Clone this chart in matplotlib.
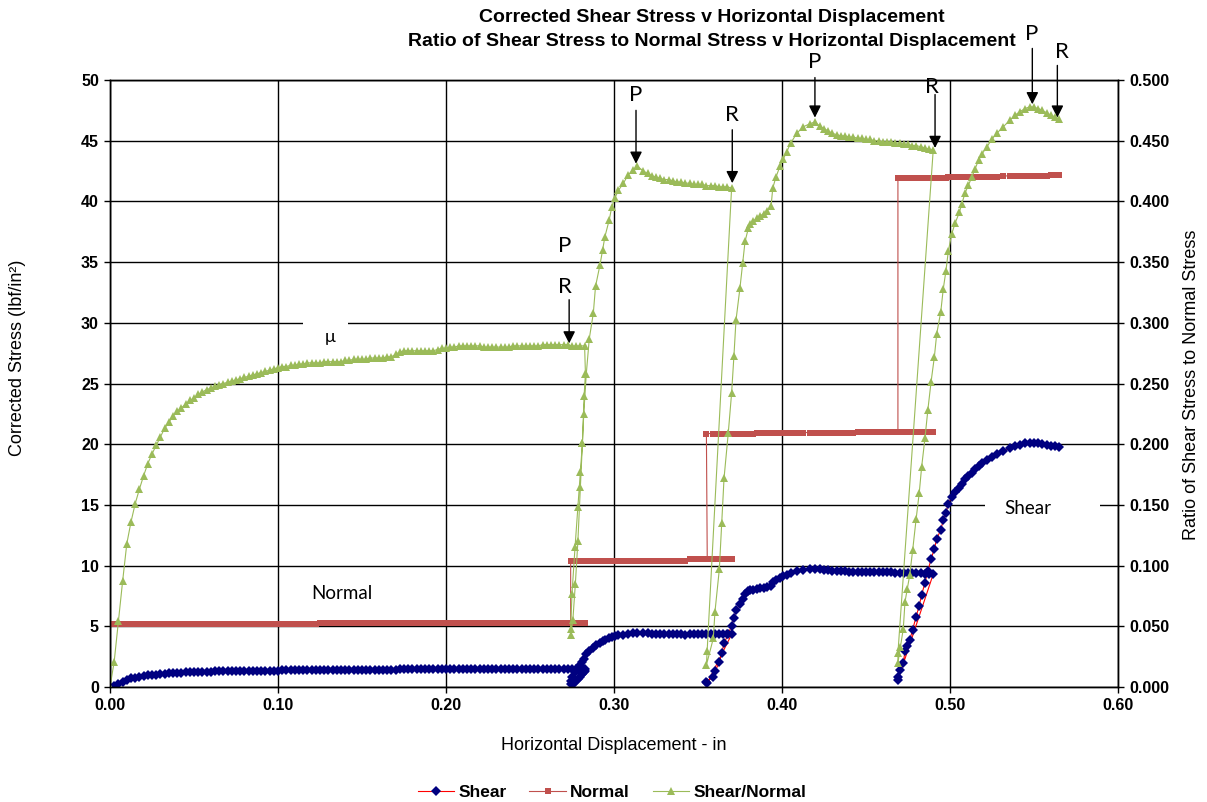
import numpy as np
import matplotlib
matplotlib.use('Agg')
import matplotlib.pyplot as plt
from matplotlib.patches import Rectangle
from matplotlib.ticker import FormatStrFormatter

plt.rcParams['font.family'] = ['Liberation Sans', 'DejaVu Sans']

DX = 0.0025  # plateau readings are logged on a 0.0025 in grid

# stage 1 : first normal load, shear/normal ratio from x = 0
stage1_ratio = [
    0.000, 0.021, 0.054, 0.087, 0.118, 0.136, 0.151, 0.163, 0.174, 0.184,
    0.192, 0.199, 0.206, 0.213, 0.218, 0.223, 0.227, 0.230, 0.233, 0.236,
    0.238, 0.241, 0.243, 0.245, 0.246, 0.248, 0.249, 0.250, 0.251, 0.252,
    0.253, 0.254, 0.255, 0.256, 0.257, 0.258, 0.259, 0.260, 0.261, 0.262,
    0.263, 0.264, 0.264, 0.265, 0.265, 0.266, 0.266, 0.267, 0.267, 0.267,
    0.267, 0.268, 0.268, 0.268, 0.268, 0.268, 0.269, 0.269, 0.270, 0.270,
    0.270, 0.270, 0.271, 0.271, 0.271, 0.271, 0.272, 0.272, 0.274, 0.276,
    0.277, 0.277, 0.277, 0.277, 0.277, 0.277, 0.277, 0.277, 0.278, 0.279,
    0.279, 0.280, 0.280, 0.281, 0.281, 0.281, 0.281, 0.281, 0.281, 0.280,
    0.280, 0.280, 0.280, 0.280, 0.280, 0.280, 0.281, 0.281, 0.281, 0.281,
    0.281, 0.281, 0.281, 0.282, 0.282, 0.282, 0.282, 0.282, 0.282, 0.282,
    0.281, 0.281, 0.281, 0.281,
]
stage1_normal = [(0.000, 5.16), (0.125, 5.24)]
unload1_x = [0.2830, 0.2822, 0.2812, 0.2800, 0.2785, 0.2770, 0.2755, 0.2742]
unload1_ratio = [0.258, 0.240, 0.201, 0.165, 0.120, 0.085, 0.055, 0.043]

# stage 2
ramp2_x = [0.2742, 0.2750, 0.2768, 0.2785, 0.2800, 0.2812, 0.2820, 0.2835,
           0.2853, 0.2877, 0.2890, 0.2917, 0.2932, 0.2946, 0.2972, 0.2986,
           0.3006, 0.3026, 0.3056, 0.3085, 0.3115, 0.3139]
ramp2_ratio = [0.048, 0.077, 0.115, 0.148, 0.177, 0.201, 0.225, 0.258,
               0.287, 0.308, 0.330, 0.348, 0.360, 0.371, 0.385, 0.395,
               0.403, 0.409, 0.415, 0.422, 0.426, 0.429]
plateau2_start = 0.3175
plateau2_ratio = [0.425, 0.423, 0.421, 0.420, 0.419, 0.418, 0.418, 0.417,
                  0.416, 0.416, 0.415, 0.415, 0.414, 0.414, 0.414, 0.413,
                  0.413, 0.413, 0.412, 0.412, 0.412, 0.411]
stage2_normal = [(0.274, 10.42), (0.345, 10.55)]
unload2_x = [0.3555]
unload2_ratio = [0.030]

# stage 3
ramp3_x = [0.3550, 0.3591, 0.3601, 0.3627, 0.3641, 0.3655, 0.3680, 0.3700,
           0.3714, 0.3726, 0.3750, 0.3766, 0.3780, 0.3800, 0.3810, 0.3830,
           0.3850, 0.3870, 0.3890, 0.3910, 0.3935, 0.3945, 0.3964, 0.3988,
           0.4008, 0.4028, 0.4052, 0.4087, 0.4127, 0.4167, 0.4196]
ramp3_ratio = [0.018, 0.040, 0.062, 0.097, 0.135, 0.172, 0.209, 0.242,
               0.273, 0.302, 0.329, 0.349, 0.367, 0.378, 0.381, 0.384,
               0.386, 0.388, 0.390, 0.392, 0.396, 0.411, 0.420, 0.429,
               0.435, 0.441, 0.448, 0.456, 0.4615, 0.464, 0.4655]
plateau3_start = 0.4225
plateau3_ratio = [0.462, 0.460, 0.458, 0.456, 0.455, 0.454, 0.454, 0.453,
                  0.453, 0.452, 0.452, 0.451, 0.451, 0.450, 0.450, 0.449,
                  0.449, 0.449, 0.448, 0.448, 0.447, 0.447, 0.446, 0.446,
                  0.445, 0.444, 0.443, 0.442]
stage3_normal = [(0.355, 20.88), (0.385, 20.96), (0.445, 21.02)]
unload3_x = [0.4690]
unload3_ratio = [0.028]

# stage 4
ramp4_x = [0.4690, 0.4705, 0.4722, 0.4732, 0.4746, 0.4760, 0.4778, 0.4798,
           0.4817, 0.4831, 0.4851, 0.4868, 0.4887, 0.4907, 0.4921, 0.4945,
           0.4960, 0.4976, 0.4990, 0.5010, 0.5030, 0.5056, 0.5070, 0.5090,
           0.5110, 0.5130, 0.5150, 0.5170, 0.5190, 0.5220, 0.5248, 0.5278,
           0.5317, 0.5357, 0.5387, 0.5417, 0.5447, 0.5476]
ramp4_ratio = [0.020, 0.033, 0.048, 0.070, 0.081, 0.092, 0.113, 0.138,
               0.160, 0.181, 0.205, 0.228, 0.251, 0.272, 0.291, 0.309,
               0.328, 0.343, 0.359, 0.373, 0.382, 0.391, 0.398, 0.407,
               0.4135, 0.420, 0.427, 0.434, 0.439, 0.445, 0.451, 0.456,
               0.4615, 0.467, 0.471, 0.474, 0.4765, 0.478]
plateau4_start = 0.5500
plateau4_ratio = [0.4775, 0.4765, 0.4750, 0.4730, 0.4710, 0.4695, 0.4680]
stage4_normal = [(0.469, 41.9), (0.498, 42.0), (0.528, 42.1), (0.5595, 42.2)]

# peak (P) / residual (R) markers: label, text x, text y, arrow x, arrow top, arrow tip
pr_marks = [
    ('R', 0.2708, 32.95, 0.2733, 31.9, 28.3),
    ('P', 0.3131, 48.8, 0.3131, 47.5, 43.1),
    ('R', 0.3702, 47.1, 0.3704, 45.9, 41.5),
    ('P', 0.4196, 51.5, 0.4196, 50.2, 46.9),
    ('R', 0.4893, 49.45, 0.4911, 48.8, 44.4),
    ('P', 0.5488, 53.8, 0.5490, 52.6, 48.0),
    ('R', 0.5667, 52.3, 0.5639, 51.2, 46.9),
]


def on_grid(x0, vals):
    return x0 + DX * np.arange(len(vals))


def held(steps, xs):
    # normal load is held constant in small steps through a stage
    return np.array([[lvl for x_on, lvl in steps if x >= x_on - 1e-9][-1] for x in xs])


segments = [
    (on_grid(0.0, stage1_ratio), stage1_ratio, stage1_normal),
    (unload1_x, unload1_ratio, stage1_normal),
    (ramp2_x, ramp2_ratio, stage2_normal),
    (on_grid(plateau2_start, plateau2_ratio), plateau2_ratio, stage2_normal),
    (unload2_x, unload2_ratio, stage2_normal),
    (ramp3_x, ramp3_ratio, stage3_normal),
    (on_grid(plateau3_start, plateau3_ratio), plateau3_ratio, stage3_normal),
    (unload3_x, unload3_ratio, stage3_normal),
    (ramp4_x, ramp4_ratio, stage4_normal),
    (on_grid(plateau4_start, plateau4_ratio), plateau4_ratio, stage4_normal),
]
disp = np.concatenate([np.asarray(s[0], float) for s in segments])
ratio = np.concatenate([np.asarray(s[1], float) for s in segments])
normal = np.concatenate([held(s[2], s[0]) for s in segments])
shear = ratio * normal

fig = plt.figure(figsize=(12.07, 8.02), dpi=100)
ax = fig.add_axes([110 / 1207, 115 / 802, 1008 / 1207, 607 / 802])
ax.set_axisbelow(True)
ax.grid(True, color='black', linewidth=1.0)

l1, = ax.plot(disp, shear, color='red', lw=0.8, marker='D', ms=4.7,
              mfc='#000080', mec='#000080', mew=0, label='Shear', zorder=2)
l2, = ax.plot(disp, normal, color='#C0504D', lw=0.8, marker='s', ms=4.6,
              mfc='#C0504D', mec='#C0504D', mew=0, label='Normal', zorder=2)

ax.set_xlim(0, 0.6)
ax.set_ylim(0, 50)
ax.set_xticks(np.arange(0, 0.61, 0.1))
ax.set_yticks(np.arange(0, 51, 5))
ax.xaxis.set_major_formatter(FormatStrFormatter('%.2f'))

ax2 = ax.twinx()
l3, = ax2.plot(disp, ratio, color='#9BBB59', lw=0.8, marker='^', ms=6,
               mfc='#9BBB59', mec='#9BBB59', mew=0, label='Shear/Normal')
ax2.set_ylim(0, 0.5)
ax2.set_yticks(np.arange(0, 0.501, 0.05))
ax2.yaxis.set_major_formatter(FormatStrFormatter('%.3f'))

for a in (ax, ax2):
    a.tick_params(direction='out', length=4, width=1, labelsize=11.5, pad=4)
    for lab in a.get_xticklabels() + a.get_yticklabels():
        lab.set_fontweight('bold')
    for sp in a.spines.values():
        sp.set_color('black')
        sp.set_linewidth(1)

# text boxes over the grid
ax.add_patch(Rectangle((0.1149, 27.6), 0.0268, 2.95, facecolor='white',
                       edgecolor='none', zorder=1))
ax.text(0.131, 28.8, 'μ', family='Lato', fontsize=13, ha='center', va='center', zorder=1.5)
ax.add_patch(Rectangle((0.5208, 13.6), 0.0684, 2.8, facecolor='white',
                       edgecolor='none', zorder=1))
ax.text(0.5464, 14.7, 'Shear', family='Lato', fontsize=13.5, ha='center', va='center', zorder=1.5)
ax.text(0.1381, 7.74, 'Normal', family='Lato', fontsize=13.5, ha='center', va='center')

ax.text(0.2708, 36.3, 'P', family='Lato', fontsize=16, ha='center', va='center')
for lab, tx, ty, axx, top, tip in pr_marks:
    ax.text(tx, ty, lab, family='Lato', fontsize=16, ha='center', va='center', clip_on=False)
    ax.annotate('', xy=(axx, tip), xytext=(axx, top),
                arrowprops=dict(arrowstyle='-|>', color='black', lw=1,
                                mutation_scale=18, shrinkA=0, shrinkB=0))

fig.text(712 / 1207, 1 - 17 / 802, 'Corrected Shear Stress v Horizontal Displacement',
         ha='center', va='center', fontsize=14, fontweight='bold')
fig.text(712 / 1207, 1 - 41 / 802,
         'Ratio of Shear Stress to Normal Stress v Horizontal Displacement',
         ha='center', va='center', fontsize=14, fontweight='bold')

fig.text(614 / 1207, 1 - 745 / 802, 'Horizontal Displacement - in',
         ha='center', va='center', fontsize=13)
fig.text(18 / 1207, 1 - 358 / 802, 'Corrected Stress (lbf/in²)',
         ha='center', va='center', rotation=90, fontsize=13)
fig.text(1192 / 1207, 1 - 385 / 802, 'Ratio of Shear Stress to Normal Stress',
         ha='center', va='center', rotation=90, fontsize=13)

fig.legend(handles=[l1, l2, l3], loc='center', bbox_to_anchor=(612 / 1207, 10 / 802),
           ncol=3, frameon=False, handlelength=2.1, handletextpad=0.25,
           columnspacing=1.3, prop={'weight': 'bold', 'size': 12.5})

fig.savefig('out.png', dpi=100)
